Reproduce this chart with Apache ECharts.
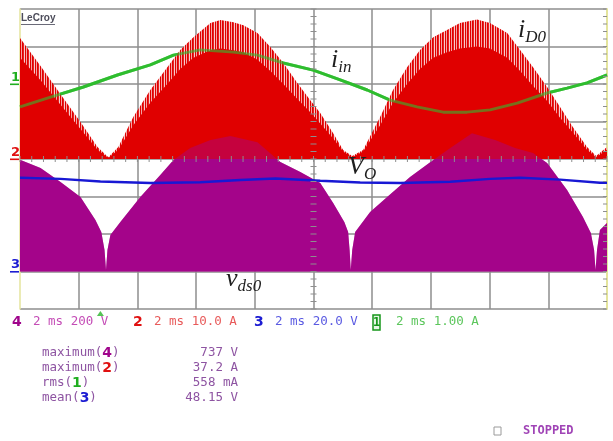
<!DOCTYPE html>
<html>
<head>
<meta charset="utf-8">
<script src="https://cdn.jsdelivr.net/npm/echarts@6/dist/echarts.min.js"></script>
<style>
html,body{margin:0;padding:0;background:#ffffff;}
#scope{width:613px;height:441px;}
</style>
</head>
<body>
<div id="scope"></div>
<script>
// Horizontal: 2 ms/div over 10 divisions; vertical: 8 divisions
const timeMin = 0, timeMax = 20, timeDiv = 2;
const divMin = 0, divMax = 8;

// Channel 2 - diode current iD0 (A): switching-spike tips and dense body
const iD0Time = [0, 0.70, 1.38, 2.06, 2.64, 3.01, 3.35, 3.86, 4.44, 5.02, 5.46, 5.91, 6.49, 6.83, 7.27,
  7.61, 8.09, 8.53, 8.97, 9.45, 9.89, 10.23, 10.67, 11.01, 11.32, 11.69, 12.27, 12.71, 13.19, 13.63,
  14.08, 14.55, 14.99, 15.57, 16.01, 16.60, 17.04, 17.48, 17.96, 18.40, 18.84, 19.32, 19.63, 20.0];
const iD0Peak = [32.3, 24.8, 17.3, 9.9, 3.2, 0.5, 3.2, 11.2, 18.4, 24.5, 29.1, 32.5, 36.3, 37.1, 36.5,
  35.7, 33.6, 29.9, 25.6, 20.3, 15.7, 12.3, 6.9, 2.4, 0.8, 2.4, 11.2, 18.4, 24.5, 29.1,
  32.5, 34.4, 36.3, 37.2, 36.3, 33.6, 29.1, 24.5, 19.2, 13.9, 8.5, 3.2, 0.8, 3.2];
const iD0Body = [27, 21, 14.5, 8, 2.5, 0.3, 2.5, 9, 15, 20, 24, 27, 29, 29.5, 29,
  28.5, 26.5, 23.5, 20, 16, 12.5, 9.5, 5.5, 2, 0.5, 2, 9, 15, 20, 24,
  27, 28.5, 29.5, 30, 29.5, 27, 23.5, 19.5, 15.5, 11, 7, 2.5, 0.5, 2.5];

// Channel 4 - switch voltage vds0 (V), upper envelope
const vdsTime = [0, 0.70, 1.38, 2.06, 2.57, 2.77, 2.88, 2.93, 2.98, 3.08, 3.42, 4.10, 4.78, 5.23, 5.80,
  6.49, 7.17, 8.09, 8.87, 9.55, 10.23, 10.67, 11.05, 11.18, 11.23, 11.27, 11.32, 11.42, 11.93, 12.51,
  13.29, 14.08, 14.66, 15.40, 16.19, 16.87, 17.48, 17.96, 18.64, 19.18, 19.45, 19.56, 19.61, 19.66, 19.76, 20.0];
const vdsEnv = [596, 552, 477, 397, 275, 211, 115, 8, 115, 195, 264, 397, 515, 595, 659,
  701, 723, 690, 584, 531, 472, 365, 264, 211, 115, 8, 115, 211, 317, 397,
  504, 595, 659, 737, 701, 659, 632, 579, 435, 291, 205, 115, 8, 115, 221, 259];

// Channel 3 - output voltage Vo (V)
const voTime = [0, 1.38, 2.74, 4.44, 6.14, 7.51, 8.70, 10.23, 11.59, 12.95, 14.66, 16.02, 17.04, 18.40, 19.76, 20.0];
const voVal = [50.0, 49.4, 48.0, 47.2, 47.6, 48.8, 49.6, 48.4, 47.5, 47.2, 47.9, 49.4, 50.0, 49.0, 47.3, 47.3];

// Channel 1 - input current iin (A)
const iinTime = [0, 1.04, 2.16, 3.32, 4.44, 5.23, 6.14, 7.27, 8.09, 8.97, 9.99, 10.91, 11.83, 12.61,
  13.53, 14.42, 15.23, 16.02, 16.94, 17.96, 18.64, 19.32, 20.0];
const iinVal = [-0.61, -0.35, -0.08, 0.24, 0.51, 0.77, 0.91, 0.85, 0.77, 0.56, 0.37, 0.11, -0.16, -0.43,
  -0.61, -0.75, -0.75, -0.69, -0.51, -0.24, -0.11, 0.03, 0.24];

// Trigger position (ms)
const triggerTime = [2.74];

// Channel settings: units per division and ground level (divisions from bottom)
const ch1Scale = 1.0, ch1Ground = 6;
const ch2Scale = 10, ch2Ground = 4;
const ch3Scale = 20, ch3Ground = 1;
const ch4Scale = 200, ch4Ground = 1;

// Readout texts
const chanIds = ['4', '2', '3', '1'];
const chanSettings = ['2 ms 200 V', '2 ms 10.0 A', '2 ms 20.0 V', '2 ms 1.00 A'];
const measNames = ['maximum', 'maximum', 'rms', 'mean'];
const measChan = ['4', '2', '1', '3'];
const measValues = ['737 V', '37.2 A', '558 mA', '48.15 V'];

const chanColor = { '1': '#1fae1f', '2': '#e01010', '3': '#1c1cd2', '4': '#a0058c' };
const chanTextColor = { '1': '#5cc65c', '2': '#e85a5a', '3': '#5a5ae2', '4': '#c44cb6' };

const GREEN = '#2fbd2f', RED = '#e00000', PURPLE = '#a5058a', BLUE = '#1818d4';
const GRID_COLOR = '#8e8e8e', EDGE_COLOR = '#e4e49c';

function trace(times, vals, scale, ground) {
  return times.map((t, i) => [t, ground + vals[i] / scale]);
}

// Vertical streak texture for the switching spikes above the dense body
function spikePattern() {
  const c = document.createElement('canvas');
  c.width = 5; c.height = 4;
  const g = c.getContext('2d');
  ['#e00000', '#f3a4a4', '#e00000', '#e62222', '#f8cccc'].forEach((col, i) => {
    g.fillStyle = col; g.fillRect(i, 0, 1, 4);
  });
  return c;
}

const iD0PeakData = trace(iD0Time, iD0Peak, ch2Scale, ch2Ground);
const iD0BodyData = trace(iD0Time, iD0Body, ch2Scale, ch2Ground);
const vdsData = trace(vdsTime, vdsEnv, ch4Scale, ch4Ground);
const voData = trace(voTime, voVal, ch3Scale, ch3Ground);
const iinData = trace(iinTime, iinVal, ch1Scale, ch1Ground);

// Graticule minor ticks: centre cross and right edge
const tickData = [];
for (let k = 0; k <= 50; k++) tickData.push([k * 0.4, divMax / 2, 0]);
for (let k = 0; k <= 40; k++) tickData.push([(timeMin + timeMax) / 2, k * 0.2, 1]);
for (let k = 0; k <= 40; k++) tickData.push([timeMax, k * 0.2, 2]);

// Each trace gets its own z so fills and strokes stack in drawing order
function areaSeries(data, fill, origin, opacity, z) {
  return {
    type: 'line', data, z, showSymbol: false, symbol: 'none', silent: true,
    lineStyle: { width: 0, opacity: 0 },
    areaStyle: { color: fill, origin, opacity }
  };
}
function lineSeries(data, color, width, opacity, z) {
  return {
    type: 'line', data, z, showSymbol: false, symbol: 'none', silent: true,
    lineStyle: { color, width, opacity }
  };
}

const chart = echarts.init(document.getElementById('scope'), null, { renderer: 'canvas' });

chart.setOption({
  animation: false,
  backgroundColor: '#ffffff',
  grid: { left: 20, right: 6, top: 9, bottom: 132, containLabel: false },
  xAxis: {
    type: 'value', min: timeMin, max: timeMax, interval: timeDiv,
    axisLine: { show: false }, axisTick: { show: false }, axisLabel: { show: false },
    splitLine: { show: true, showMinLine: false, showMaxLine: false, lineStyle: { color: GRID_COLOR, width: 1.5 } }
  },
  yAxis: [
    {
      type: 'value', min: divMin, max: divMax, interval: 1, position: 'left',
      axisLine: { show: true, onZero: false, lineStyle: { color: EDGE_COLOR, width: 1.5 } },
      axisTick: { show: false }, axisLabel: { show: false },
      splitLine: { show: true, lineStyle: { color: GRID_COLOR, width: 1.5 } }
    },
    {
      type: 'value', min: divMin, max: divMax, interval: 1, position: 'right',
      axisLine: { show: true, onZero: false, lineStyle: { color: EDGE_COLOR, width: 2 } },
      axisTick: { show: false }, axisLabel: { show: false }, splitLine: { show: false }
    }
  ],
  series: [
    areaSeries(vdsData, PURPLE, ch4Ground, 1, 2),
    lineSeries(iinData, GREEN, 3, 1, 3),
    areaSeries(iD0PeakData, { image: spikePattern(), repeat: 'repeat' }, ch2Ground, 1, 4),
    areaSeries(iD0BodyData, RED, ch2Ground, 1, 5),
    areaSeries(vdsData, PURPLE, ch4Ground, 0.45, 6),
    lineSeries(iinData, GREEN, 3, 0.6, 7),
    lineSeries(voData, BLUE, 2.5, 1, 8),
    {
      type: 'custom', silent: true, data: tickData, z: 9,
      renderItem: (params, api) => {
        const p = api.coord([api.value(0), api.value(1)]);
        const kind = api.value(2);
        let shape;
        if (kind === 0) shape = { x1: p[0], y1: p[1] - 3, x2: p[0], y2: p[1] + 3 };
        else if (kind === 1) shape = { x1: p[0] - 3, y1: p[1], x2: p[0] + 3, y2: p[1] };
        else shape = { x1: p[0] - 4, y1: p[1], x2: p[0], y2: p[1] };
        return { type: 'line', shape, style: { stroke: GRID_COLOR, lineWidth: 1 } };
      }
    },
    {
      type: 'scatter', silent: true, clip: false, z: 10,
      data: triggerTime.map(t => [t, -0.12]),
      symbol: 'triangle', symbolSize: [7, 5],
      itemStyle: { color: '#2ab42a' }
    }
  ]
});

// ---- text annotations ----
const measureCtx = document.createElement('canvas').getContext('2d');
function textWidth(str, size) {
  measureCtx.font = 'italic ' + size + 'px "Liberation Serif"';
  return measureCtx.measureText(str).width;
}
function symbolLabel(x, mainBottom, main, sub) {
  const w = textWidth(main, 26);
  const common = { fontFamily: 'Liberation Serif', fontStyle: 'italic', fill: '#1e1e1e', verticalAlign: 'bottom' };
  return [
    { type: 'text', x, y: mainBottom, silent: true, z: 20, style: Object.assign({ text: main, fontSize: 26 }, common) },
    { type: 'text', x: x + w, y: mainBottom + 3, silent: true, z: 20, style: Object.assign({ text: sub, fontSize: 17 }, common) }
  ];
}

const mono = 'DejaVu Sans Mono';
const graphics = [];

// LeCroy badge
graphics.push({ type: 'text', x: 21, y: 13, silent: true, z: 20,
  style: { text: 'LeCroy', fontFamily: 'Liberation Sans', fontWeight: 'bold', fontSize: 10, fill: '#4c4c5a' } });
graphics.push({ type: 'rect', silent: true, z: 20, shape: { x: 21, y: 24, width: 34, height: 1 }, style: { fill: '#6a6a78' } });

// Signal names
graphics.push(...symbolLabel(518, 43, 'i', 'D0'));
graphics.push(...symbolLabel(331, 73, 'i', 'in'));
graphics.push(...symbolLabel(348, 180, 'V', 'O'));
graphics.push(...symbolLabel(226, 292, 'v', 'ds0'));

// Ground markers on the left edge
[['1', ch1Ground], ['2', ch2Ground], ['3', ch3Ground]].forEach(([id, gnd]) => {
  const py = chart.convertToPixel({ xAxisIndex: 0, yAxisIndex: 0 }, [timeMin, gnd])[1];
  graphics.push({ type: 'text', x: 11, y: py, silent: true,
    style: { text: id, fontFamily: 'DejaVu Sans', fontWeight: 'bold', fontSize: 13, fill: chanColor[id], verticalAlign: 'bottom' } });
  graphics.push({ type: 'rect', silent: true, shape: { x: 10, y: py - 0.5, width: 9, height: 1.6 }, style: { fill: chanColor[id] } });
});

// Channel settings row
const idX = [12, 133, 254, 373];
const setX = [33, 154, 275, 396];
chanIds.forEach((id, i) => {
  if (id === '1') {
    graphics.push({ type: 'rect', silent: true, shape: { x: idX[i], y: 315, width: 7, height: 15 },
      style: { fill: '#e6f6e6', stroke: '#16961a', lineWidth: 1.5 } });
    graphics.push({ type: 'text', x: idX[i] + 3.5, y: 322.5, silent: true,
      style: { text: id, fontFamily: mono, fontWeight: 'bold', fontSize: 12, fill: '#16961a', align: 'center', verticalAlign: 'middle' } });
  } else {
    graphics.push({ type: 'text', x: idX[i], y: 322, silent: true,
      style: { text: id, fontFamily: 'DejaVu Sans', fontWeight: 'bold', fontSize: 14, fill: chanColor[id], verticalAlign: 'middle' } });
  }
  graphics.push({ type: 'text', x: setX[i], y: 322, silent: true,
    style: { text: chanSettings[i], fontFamily: mono, fontSize: 12.5, fill: chanTextColor[id], verticalAlign: 'middle' } });
});

// Measurement table
const measRowY = [353, 368, 383, 398];
const rich = { n: { fontFamily: mono, fontSize: 12.5, fill: '#8e54a2' } };
Object.keys(chanColor).forEach(id => {
  rich['c' + id] = { fontFamily: 'DejaVu Sans', fontWeight: 'bold', fontSize: 14, fill: chanColor[id] };
});
measNames.forEach((name, i) => {
  graphics.push({ type: 'text', x: 42, y: measRowY[i], silent: true,
    style: { text: '{n|' + name + '(}{c' + measChan[i] + '|' + measChan[i] + '}{n|)}', rich, verticalAlign: 'middle' } });
  graphics.push({ type: 'text', x: 238, y: measRowY[i], silent: true,
    style: { text: measValues[i], fontFamily: mono, fontSize: 12.5, fill: '#8e54a2', align: 'right', verticalAlign: 'middle' } });
});

// Acquisition status
graphics.push({ type: 'rect', silent: true, shape: { x: 494, y: 427, width: 7, height: 8 },
  style: { fill: '#ffffff', stroke: '#9a9a9a', lineWidth: 1 } });
graphics.push({ type: 'text', x: 523, y: 431, silent: true,
  style: { text: 'STOPPED', fontFamily: mono, fontWeight: 'bold', fontSize: 12, fill: '#a044b6', verticalAlign: 'middle' } });

chart.setOption({ graphic: { elements: graphics } });
</script>
</body>
</html>
